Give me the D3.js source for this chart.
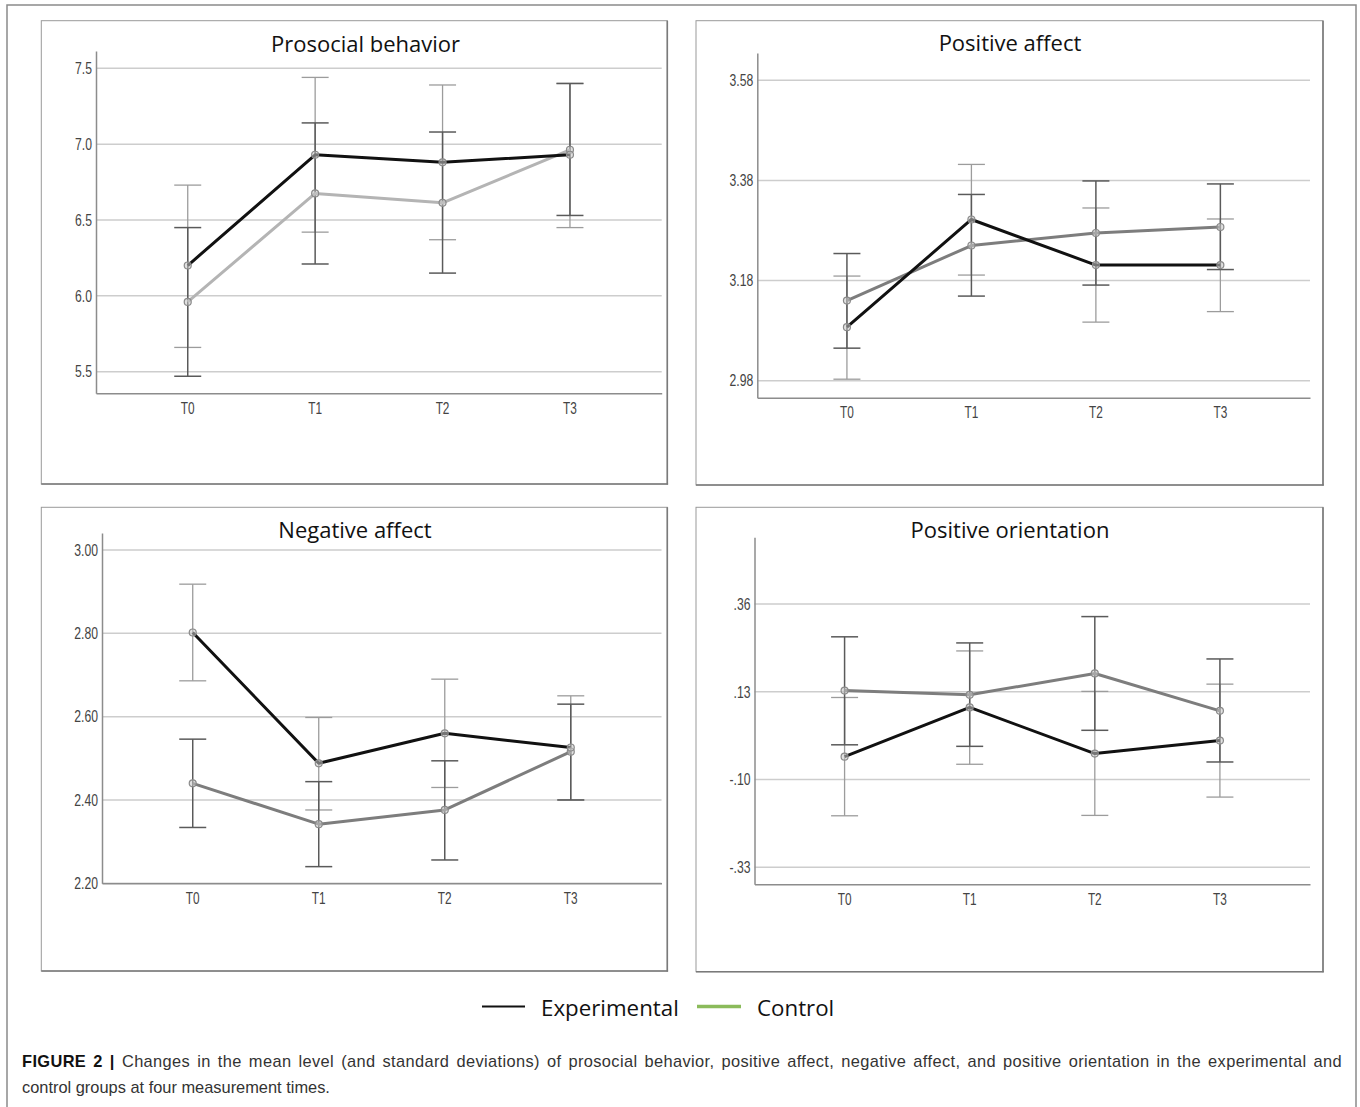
<!DOCTYPE html>
<html>
<head>
<meta charset="utf-8">
<script src="https://cdn.jsdelivr.net/npm/d3@7"></script>
<style>
  html, body { margin: 0; padding: 0; background: #fff; }
  svg { display: block; }
</style>
</head>
<body>
<svg id="chart" width="1360" height="1107"></svg>
<script>
// ---------------- DATA ----------------
const times = ["T0", "T1", "T2", "T3"];

// Prosocial behavior
const prosTicks = [5.5, 6.0, 6.5, 7.0, 7.5];
const prosExpMean = [6.20, 6.93, 6.88, 6.93];
const prosExpLow = [5.66, 6.42, 6.37, 6.45];
const prosExpHigh = [6.73, 7.44, 7.39, 7.40];
const prosCtrlMean = [5.96, 6.675, 6.613, 6.963];
const prosCtrlLow = [5.47, 6.21, 6.15, 6.53];
const prosCtrlHigh = [6.45, 7.14, 7.08, 7.40];

// Positive affect
const paTicks = [2.98, 3.18, 3.38, 3.58];
const paExpMean = [3.087, 3.302, 3.211, 3.211];
const paExpLow = [2.983, 3.191, 3.097, 3.118];
const paExpHigh = [3.189, 3.412, 3.325, 3.303];
const paCtrlMean = [3.140, 3.250, 3.275, 3.287];
const paCtrlLow = [3.045, 3.149, 3.171, 3.202];
const paCtrlHigh = [3.234, 3.352, 3.379, 3.373];

// Negative affect
const naTicks = [2.20, 2.40, 2.60, 2.80, 3.00];
const naExpMean = [2.802, 2.488, 2.560, 2.526];
const naExpLow = [2.686, 2.376, 2.430, 2.400];
const naExpHigh = [2.918, 2.598, 2.690, 2.650];
const naCtrlMean = [2.440, 2.342, 2.376, 2.516];
const naCtrlLow = [2.334, 2.240, 2.256, 2.400];
const naCtrlHigh = [2.546, 2.444, 2.494, 2.630];

// Positive orientation
const poTicks = [-0.33, -0.10, 0.13, 0.36];
const poExpMean = [-0.040, 0.089, -0.032, 0.002];
const poExpLow = [-0.195, -0.060, -0.194, -0.146];
const poExpHigh = [0.115, 0.237, 0.131, 0.150];
const poCtrlMean = [0.133, 0.122, 0.178, 0.080];
const poCtrlLow = [-0.009, -0.013, 0.029, -0.054];
const poCtrlHigh = [0.274, 0.258, 0.327, 0.216];

const legendLabels = ["Experimental", "Control"];
const captionBold = "FIGURE 2 |";
const captionLine1 = "Changes in the mean level (and standard deviations) of prosocial behavior, positive affect, negative affect, and positive orientation in the experimental and";
const captionLine2 = "control groups at four measurement times.";

// ---------------- LAYOUT ----------------
const noLead = d => d3.format(".2f")(d).replace("\u2212", "-").replace(/^(-?)0\./, "$1.");

const panels = [
  { title: "Prosocial behavior", tx: 365.5, ty: 51.5,
    box: [41.3, 20.7, 667.3, 484], xr: [96, 661.7], yTop: 51, yBot: 393.3,
    gridPx: [371.7, 68.3], ticks: prosTicks, fmt: d3.format(".1f"), ctrlColor: "#b4b4b4",
    exp: [prosExpMean, prosExpLow, prosExpHigh], ctrl: [prosCtrlMean, prosCtrlLow, prosCtrlHigh] },
  { title: "Positive affect", tx: 1010, ty: 51,
    box: [696, 20.7, 1323, 485], xr: [757.3, 1310], yTop: 53, yBot: 397.7,
    gridPx: [380.7, 80.3], ticks: paTicks, fmt: d3.format(".2f"), ctrlColor: "#7d7d7d",
    exp: [paExpMean, paExpLow, paExpHigh], ctrl: [paCtrlMean, paCtrlLow, paCtrlHigh] },
  { title: "Negative affect", tx: 355, ty: 537.5,
    box: [41.3, 507.3, 667.3, 971], xr: [102, 661.5], yTop: 533, yBot: 883.3,
    gridPx: [883.3, 550], ticks: naTicks, fmt: d3.format(".2f"), ctrlColor: "#7d7d7d",
    exp: [naExpMean, naExpLow, naExpHigh], ctrl: [naCtrlMean, naCtrlLow, naCtrlHigh] },
  { title: "Positive orientation", tx: 1010, ty: 538,
    box: [696, 507.3, 1323, 971.7], xr: [754.5, 1310], yTop: 537.3, yBot: 884.3,
    gridPx: [867.3, 604], ticks: poTicks, fmt: noLead, ctrlColor: "#7d7d7d",
    exp: [poExpMean, poExpLow, poExpHigh], ctrl: [poCtrlMean, poCtrlLow, poCtrlHigh] }
];

const svg = d3.select("#chart");
const TICK_FONT = "'Liberation Sans', Arial, sans-serif";
const TITLE_FONT = "'Open Sans', 'Noto Sans', sans-serif";
const SX = 0.74;

// outer frame
svg.append("rect").attr("x", 7).attr("y", 5).attr("width", 1349).attr("height", 1120)
  .attr("fill", "none").attr("stroke", "#8a8a8a").attr("stroke-width", 1.5);

panels.forEach(p => {
  const g = svg.append("g");
  const [bx0, by0, bx1, by1] = p.box;
  g.append("rect").attr("x", bx0).attr("y", by0).attr("width", bx1 - bx0).attr("height", by1 - by0)
    .attr("fill", "#fff").attr("stroke", "#9a9a9a").attr("stroke-width", 1);
  g.append("line").attr("x1", bx1).attr("x2", bx1).attr("y1", by0).attr("y2", by1 + 0.5)
    .attr("stroke", "#7a7a7a").attr("stroke-width", 1.6);
  g.append("line").attr("x1", bx0).attr("x2", bx1 + 0.8).attr("y1", by1).attr("y2", by1)
    .attr("stroke", "#7a7a7a").attr("stroke-width", 1.6);

  // scales
  const t0 = p.ticks[0], t1 = p.ticks[p.ticks.length - 1];
  const base = d3.scaleLinear().domain([t0, t1]).range(p.gridPx);
  const y = d3.scaleLinear().domain([base.invert(p.yBot), base.invert(p.yTop)]).range([p.yBot, p.yTop]);
  const x = d3.scalePoint().domain(times).range(p.xr).padding(0.72);

  // gridlines
  g.append("g").selectAll("line").data(p.ticks).join("line")
    .attr("x1", p.xr[0]).attr("x2", p.xr[1])
    .attr("y1", d => y(d)).attr("y2", d => y(d))
    .attr("stroke", "#cdcdcd").attr("stroke-width", 1.5);

  // y axis
  const ya = g.append("g").attr("transform", `translate(${p.xr[0]},0)`)
    .call(d3.axisLeft(y).tickValues(p.ticks).tickFormat(p.fmt).tickSize(0).tickSizeOuter(0).tickPadding(0));
  ya.select(".domain").attr("stroke", "#8c8c8c").attr("stroke-width", 1.5);
  ya.selectAll("text")
    .attr("x", -4 / SX).attr("transform", `scale(${SX},1)`)
    .attr("font-family", TICK_FONT).attr("font-size", 16.5).attr("fill", "#444");

  // x axis
  const xa = g.append("g").attr("transform", `translate(0,${p.yBot})`)
    .call(d3.axisBottom(x).tickSize(0).tickSizeOuter(0).tickPadding(9));
  xa.select(".domain").attr("stroke", "#8c8c8c").attr("stroke-width", 1.5);
  xa.selectAll(".tick").each(function(d) {
    const tk = d3.select(this);
    tk.attr("transform", "translate(0,0)");
    tk.select("text").attr("x", x(d) / SX).attr("transform", `scale(${SX},1)`)
      .attr("font-family", TICK_FONT).attr("font-size", 16).attr("fill", "#444");
  });

  // title
  g.append("text").attr("x", p.tx).attr("y", p.ty).attr("text-anchor", "middle")
    .attr("font-family", TITLE_FONT).attr("font-size", 22).attr("fill", "#111")
    .text(p.title);

  const CAP = 13.5;
  function errorBars(series, color, width) {
    const [mean, lo, hi] = series;
    const eg = g.append("g").attr("stroke", color).attr("stroke-width", width).attr("fill", "none");
    times.forEach((t, i) => {
      eg.append("line").attr("x1", x(t)).attr("x2", x(t)).attr("y1", y(lo[i])).attr("y2", y(hi[i]));
      eg.append("line").attr("x1", x(t) - CAP).attr("x2", x(t) + CAP).attr("y1", y(lo[i])).attr("y2", y(lo[i]));
      eg.append("line").attr("x1", x(t) - CAP).attr("x2", x(t) + CAP).attr("y1", y(hi[i])).attr("y2", y(hi[i]));
    });
  }
  errorBars(p.exp, "#9c9c9c", 1.3);
  errorBars(p.ctrl, "#5a5a5a", 1.5);

  const line = d3.line().x((d, i) => x(times[i])).y(d => y(d));
  g.append("path").datum(p.ctrl[0]).attr("d", line).attr("fill", "none")
    .attr("stroke", p.ctrlColor).attr("stroke-width", 3).attr("stroke-linejoin", "round");
  g.append("path").datum(p.exp[0]).attr("d", line).attr("fill", "none")
    .attr("stroke", "#111").attr("stroke-width", 3).attr("stroke-linejoin", "round");

  [p.ctrl[0], p.exp[0]].forEach(m => {
    g.append("g").selectAll("circle").data(m).join("circle")
      .attr("cx", (d, i) => x(times[i])).attr("cy", d => y(d)).attr("r", 3.5)
      .attr("fill", "rgba(200,200,200,0.55)").attr("stroke", "#8a8a8a").attr("stroke-width", 1.2);
  });
});

// legend
const legendColors = ["#111111", "#8bbb5b"];
const legendX = [[482, 525, 541], [697, 741, 757]];
legendLabels.forEach((lab, i) => {
  svg.append("line").attr("x1", legendX[i][0]).attr("x2", legendX[i][1]).attr("y1", 1006.5).attr("y2", 1006.5)
    .attr("stroke", legendColors[i]).attr("stroke-width", i === 0 ? 2 : 3.5);
  svg.append("text").attr("x", legendX[i][2]).attr("y", 1016).attr("font-family", TITLE_FONT)
    .attr("font-size", 22.3).attr("fill", "#111").text(lab);
});

// caption (first line justified to the full text width)
const CAP_FS = 16.4;
const cap = svg.append("text").attr("x", 22).attr("y", 1067)
  .attr("font-family", TICK_FONT).attr("font-size", CAP_FS).attr("fill", "#333");
cap.append("tspan").attr("font-weight", "bold").attr("fill", "#111").text(captionBold);
cap.append("tspan").text(" " + captionLine1);
const fullText = captionBold + " " + captionLine1;
const natural = cap.node().getComputedTextLength();
const spaces = fullText.split(" ").length - 1;
const target = 1342 - 22;
if (natural < target) {
  const extra = target - natural;
  const ls = (extra * 0.55) / fullText.length;
  cap.attr("letter-spacing", ls);
  cap.attr("word-spacing", (extra * 0.45) / spaces);
}
svg.append("text").attr("x", 22).attr("y", 1093)
  .attr("font-family", TICK_FONT).attr("font-size", CAP_FS).attr("fill", "#333").text(captionLine2);
</script>
</body>
</html>
